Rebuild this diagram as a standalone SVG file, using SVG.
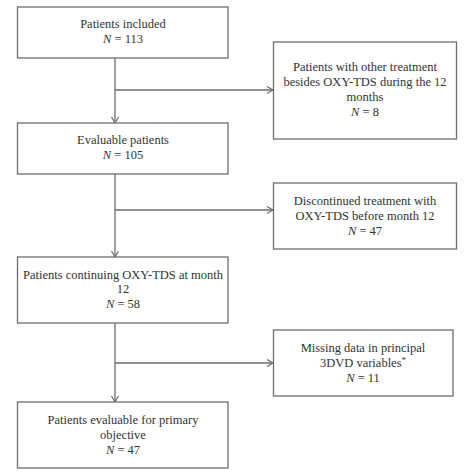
<svg xmlns="http://www.w3.org/2000/svg" width="474" height="474" viewBox="0 0 474 474">
<defs>
<style>
.box{fill:#fff;stroke:#6e6e6e;stroke-width:1.3}
.ln{fill:none;stroke:#6e6e6e;stroke-width:1.3}
text{font-family:"Liberation Serif","DejaVu Serif",serif;font-size:12.5px;fill:#333;text-anchor:middle}
.i{font-style:italic}
</style>
<marker id="ah" markerWidth="10" markerHeight="10" refX="7" refY="4" orient="auto" markerUnits="userSpaceOnUse">
<path d="M1,0.5 L7,4 L1,7.5" fill="none" stroke="#6e6e6e" stroke-width="1.2"/>
</marker>
</defs>
<rect width="474" height="474" fill="#fff"/>
<g id="connectors">
<path class="ln" d="M115,58 V123" marker-end="url(#ah)"/>
<path class="ln" d="M115,90 H273" marker-end="url(#ah)"/>
<path class="ln" d="M115,174 V257" marker-end="url(#ah)"/>
<path class="ln" d="M115,210 H273" marker-end="url(#ah)"/>
<path class="ln" d="M115,323 V402" marker-end="url(#ah)"/>
<path class="ln" d="M115,363 H273" marker-end="url(#ah)"/>
</g>
<g id="n1">
<rect class="box" x="17.5" y="7" width="210.5" height="51"/>
<text x="123" y="28">Patients included</text>
<text x="123" y="43"><tspan class="i">N</tspan> = 113</text>
</g>
<g id="r1">
<rect class="box" x="273.5" y="42" width="183" height="97"/>
<text x="365" y="71">Patients with other treatment</text>
<text x="365" y="86">besides OXY-TDS during the 12</text>
<text x="365" y="101">months</text>
<text x="365" y="116"><tspan class="i">N</tspan> = 8</text>
</g>
<g id="n2">
<rect class="box" x="17.5" y="123" width="210.5" height="51"/>
<text x="123" y="144">Evaluable patients</text>
<text x="123" y="159"><tspan class="i">N</tspan> = 105</text>
</g>
<g id="r2">
<rect class="box" x="273.5" y="183" width="183" height="66"/>
<text x="365" y="205">Discontinued treatment with</text>
<text x="365" y="220">OXY-TDS before month 12</text>
<text x="365" y="235"><tspan class="i">N</tspan> = 47</text>
</g>
<g id="n3">
<rect class="box" x="17.5" y="257" width="210.5" height="66"/>
<text x="123" y="279">Patients continuing OXY-TDS at month</text>
<text x="123" y="293">12</text>
<text x="123" y="308"><tspan class="i">N</tspan> = 58</text>
</g>
<g id="r3">
<rect class="box" x="273.5" y="330" width="179.5" height="66"/>
<text x="363" y="352">Missing data in principal</text>
<text x="363" y="367">3DVD variables<tspan font-size="9" dy="-4">*</tspan></text>
<text x="363" y="382"><tspan class="i">N</tspan> = 11</text>
</g>
<g id="n4">
<rect class="box" x="17.5" y="402" width="210.5" height="66"/>
<text x="123" y="424">Patients evaluable for primary</text>
<text x="123" y="439">objective</text>
<text x="123" y="454"><tspan class="i">N</tspan> = 47</text>
</g>
</svg>
